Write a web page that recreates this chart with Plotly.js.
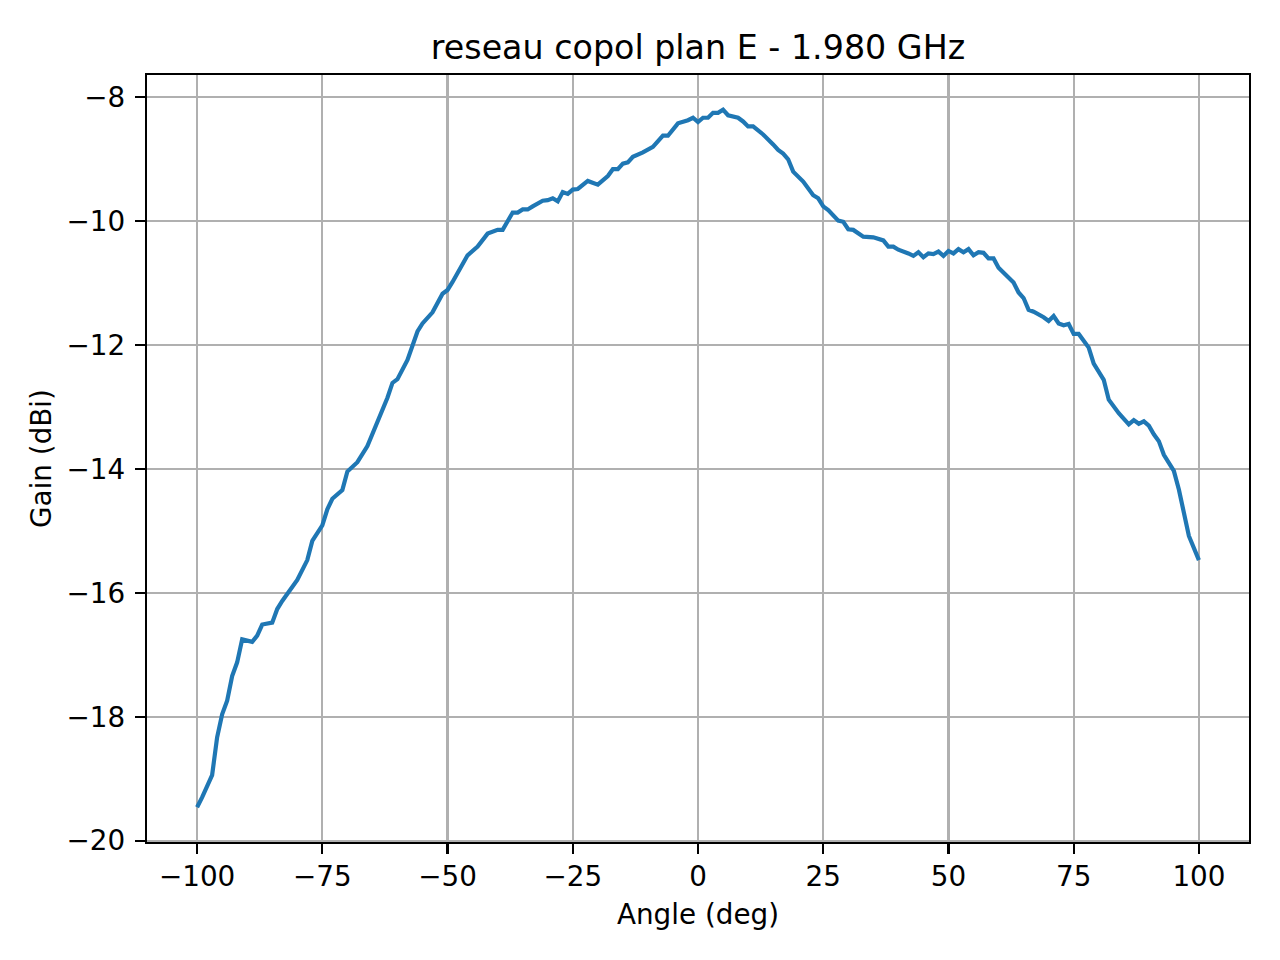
<!DOCTYPE html>
<html>
<head>
<meta charset="utf-8">
<script src="https://cdn.plot.ly/plotly-3.0.1.min.js"></script>
<style>
  html, body { margin: 0; padding: 0; background: #fff; }
  #chart { width: 1280px; height: 960px; }
</style>
</head>
<body>
<div id="chart"></div>
<script>
// angles (deg)
let angles = [
  -100, -99, -97, -96, -95, -94, -93, -92, -91, -89, -88, -87, -85, -84, -83, -81, -80,
  -78, -77, -75, -74, -73, -71, -70, -68, -66, -65, -64, -62, -61, -60, -58, -57, -56,
  -55, -53, -51, -50, -49, -47, -46, -44, -42, -40, -39, -37, -36, -35, -34, -33, -32,
  -31, -30, -29, -28, -27, -26, -25, -24, -22, -20, -18, -17, -16, -15, -14, -13, -11,
  -9, -8, -7, -6, -4, -2, -1, 0, 1, 2, 3, 4, 5, 6, 8, 9, 10, 11, 12, 13, 15, 16, 17,
  18, 19, 21, 23, 24, 25, 26, 28, 29, 30, 31, 33, 35, 37, 38, 39, 40, 42, 43, 44, 45,
  46, 47, 48, 49, 50, 51, 52, 53, 54, 55, 56, 57, 58, 59, 60, 62, 63, 64, 65, 66, 67,
  69, 70, 71, 72, 73, 74, 75, 76, 78, 79, 81, 82, 84, 86, 87, 88, 89, 90, 91, 92, 93,
  94, 95, 96, 97, 98, 100
];
// gain (dBi)
let gain = [
  -19.46, -19.30, -18.94, -18.33, -17.96, -17.74, -17.34, -17.12, -16.75, -16.79, -16.69, -16.51, -16.48, -16.26, -16.13, -15.91, -15.79,
  -15.47, -15.16, -14.91, -14.65, -14.48, -14.34, -14.04, -13.89, -13.63, -13.44, -13.22, -12.85, -12.61, -12.55, -12.24, -12.02, -11.78,
  -11.65, -11.47, -11.17, -11.11, -10.98, -10.67, -10.55, -10.41, -10.20, -10.14, -10.14, -9.86, -9.86, -9.81, -9.81, -9.76, -9.72,
  -9.67, -9.66, -9.63, -9.68, -9.53, -9.56, -9.49, -9.48, -9.35, -9.41, -9.27, -9.16, -9.16, -9.07, -9.05, -8.96, -8.89,
  -8.80, -8.72, -8.62, -8.62, -8.42, -8.37, -8.33, -8.40, -8.33, -8.33, -8.25, -8.25, -8.20, -8.29, -8.33, -8.39, -8.47, -8.47, -8.53, -8.60, -8.76, -8.85, -8.91,
  -9.00, -9.20, -9.36, -9.58, -9.63, -9.76, -9.82, -9.99, -10.01, -10.13, -10.14, -10.25, -10.26, -10.31, -10.41, -10.41, -10.46, -10.52, -10.56, -10.50, -10.58,
  -10.52, -10.53, -10.49, -10.56, -10.48, -10.52, -10.45, -10.50, -10.45, -10.55, -10.50, -10.51, -10.60, -10.60, -10.75, -10.92, -10.99, -11.15, -11.24, -11.43, -11.46,
  -11.55, -11.61, -11.53, -11.65, -11.68, -11.66, -11.82, -11.82, -12.04, -12.30, -12.56, -12.88, -13.10, -13.28, -13.21, -13.27, -13.23, -13.30, -13.44, -13.55, -13.77,
  -13.90, -14.03, -14.33, -14.71, -15.08, -15.47
];
let xTicks = [-100, -75, -50, -25, 0, 25, 50, 75, 100];
let yTicks = [-20, -18, -16, -14, -12, -10, -8];

let fontFamily = 'DejaVu Sans, sans-serif';

var trace = {
  x: angles,
  y: gain,
  type: 'scatter',
  mode: 'lines',
  line: { color: '#1f77b4', width: 4.2 },
  hoverinfo: 'skip'
};

var axisStyle = {
  showgrid: true,
  gridcolor: '#b0b0b0',
  gridwidth: 2.2,
  zeroline: false,
  showline: true,
  mirror: true,
  linecolor: '#000',
  linewidth: 2.2,
  ticks: 'outside',
  ticklen: 10,
  tickwidth: 2.2,
  tickcolor: '#000',
  tickfont: { family: fontFamily, size: 27.8, color: '#000' },
  tickmode: 'array'
};

var layout = {
  width: 1280,
  height: 960,
  margin: { l: 147, r: 31, t: 75, b: 118 },
  paper_bgcolor: '#fff',
  plot_bgcolor: '#fff',
  showlegend: false,
  font: { family: fontFamily, color: '#000' },
  title: {
    text: 'reseau copol plan E - 1.980 GHz',
    font: { family: fontFamily, size: 33.3, color: '#000' },
    x: 698 / 1280, xref: 'container', xanchor: 'center',
    y: 1 - 47 / 960, yref: 'container', yanchor: 'middle'
  },
  xaxis: Object.assign({}, axisStyle, {
    range: [-110, 110],
    tickvals: xTicks,
    ticklabelstandoff: -2,
    title: { text: 'Angle (deg)', font: { family: fontFamily, size: 27.8, color: '#000' }, standoff: 13 }
  }),
  yaxis: Object.assign({}, axisStyle, {
    range: [-20.02, -7.64],
    tickvals: yTicks,
    ticklabelstandoff: 4,
    title: { text: 'Gain (dBi)', font: { family: fontFamily, size: 27.8, color: '#000' }, standoff: 7 }
  })
};

Plotly.newPlot('chart', [trace], layout, { staticPlot: true, displayModeBar: false });
</script>
</body>
</html>
